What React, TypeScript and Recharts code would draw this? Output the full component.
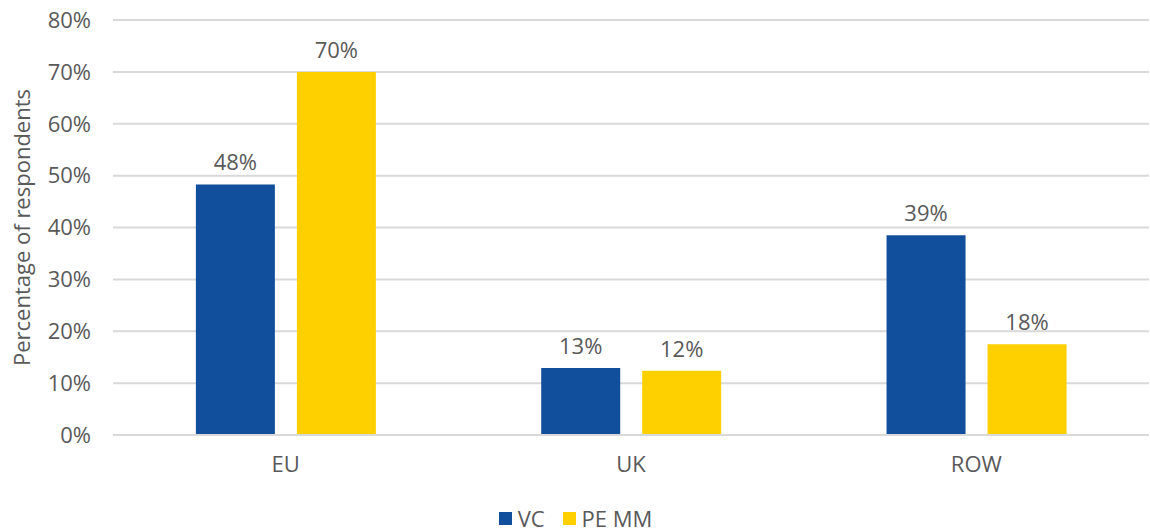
import { BarChart, Bar, XAxis, YAxis, CartesianGrid, LabelList, Legend } from 'recharts';

const regions = ['EU', 'UK', 'ROW'];
const vc = [48.3, 12.9, 38.5];
const peMm = [70, 12.4, 17.5];
const yTicks = [0, 10, 20, 30, 40, 50, 60, 70, 80];

const data = regions.map((region, i) => ({ region, vc: vc[i], peMm: peMm[i] }));

const FONT = '"Open Sans", sans-serif';
const TEXT = '#595959';
const SIZE = 22;

const legendItems = [
  { label: 'VC', color: '#114F9D' },
  { label: 'PE MM', color: '#FFD000' },
];

const ChartLegend = () => (
  <div style={{ display: 'flex', justifyContent: 'center', alignItems: 'center', gap: 18, fontFamily: FONT, paddingTop: 8 }}>
    {legendItems.map((item) => (
      <div key={item.label} style={{ display: 'flex', alignItems: 'center', gap: 6 }}>
        <div style={{ width: 13, height: 13, background: item.color }} />
        <span style={{ fontSize: SIZE, color: TEXT }}>{item.label}</span>
      </div>
    ))}
  </div>
);

const App = () => {
  return (
    <div style={{ position: 'absolute', left: 0, top: 0, background: '#fff' }}>
      <BarChart
        width={1150}
        height={531}
        data={data}
        margin={{ top: 20, right: 1, bottom: 0, left: 2 }}
        barCategoryGap="24%"
        barGap={22}
      >
        <CartesianGrid stroke="#d9d9d9" strokeWidth={2} vertical={false} />
        <XAxis
          dataKey="region"
          axisLine={{ stroke: '#d9d9d9', strokeWidth: 2 }}
          tickLine={false}
          tickMargin={15}
          height={60}
          tick={{ fontSize: SIZE, fontFamily: FONT, fill: TEXT }}
        />
        <YAxis
          domain={[0, 80]}
          ticks={yTicks}
          width={111}
          axisLine={false}
          tickLine={false}
          tickMargin={16}
          tickFormatter={(v) => `${v}%`}
          tick={{ fontSize: SIZE, fontFamily: FONT, fill: TEXT }}
          label={{
            value: 'Percentage of respondents',
            angle: -90,
            position: 'insideLeft',
            offset: 20,
            style: { textAnchor: 'middle', fontSize: SIZE, fontFamily: FONT, fill: TEXT },
          }}
        />
        <Legend verticalAlign="bottom" height={36} content={<ChartLegend />} />
        <Bar dataKey="vc" name="VC" fill="#114F9D" isAnimationActive={false}>
          <LabelList
            dataKey="vc"
            position="top"
            offset={14}
            formatter={(v: number) => `${Math.round(v)}%`}
            style={{ fontSize: SIZE, fontFamily: FONT, fill: TEXT }}
          />
        </Bar>
        <Bar dataKey="peMm" name="PE MM" fill="#FFD000" isAnimationActive={false}>
          <LabelList
            dataKey="peMm"
            position="top"
            offset={14}
            formatter={(v: number) => `${Math.round(v)}%`}
            style={{ fontSize: SIZE, fontFamily: FONT, fill: TEXT }}
          />
        </Bar>
      </BarChart>
    </div>
  );
};

export default App;
